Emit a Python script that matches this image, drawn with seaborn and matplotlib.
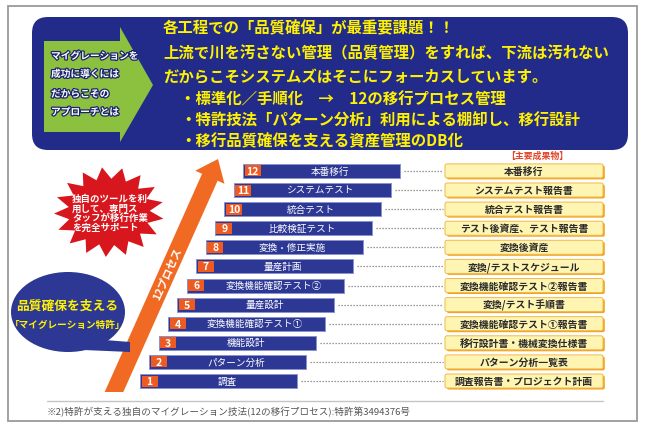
import numpy as np
import matplotlib
matplotlib.use("Agg")
import matplotlib.pyplot as plt
import matplotlib.patches as mpatches
import matplotlib.patheffects as pe
import seaborn as sns

# --- data ---
steps = [1, 2, 3, 4, 5, 6, 7, 8, 9, 10, 11, 12]
step_names = ["調査", "パターン分析", "機能設計", "変換機能確認テスト①", "量産設計",
              "変換機能確認テスト②", "量産計画", "変換・修正実施", "比較検証テスト",
              "統合テスト", "システムテスト", "本番移行"]
deliverables = ["調査報告書・プロジェクト計画", "パターン分析一覧表", "移行設計書・機械変換仕様書",
                "変換機能確認テスト①報告書", "変換/テスト手順書", "変換機能確認テスト②報告書",
                "変換/テストスケジュール", "変換後資産", "テスト後資産、テスト報告書",
                "統合テスト報告書", "システムテスト報告書", "本番移行"]
headline = ["各工程での「品質確保」が最重要課題！！",
            "上流で川を汚さない管理（品質管理）をすれば、下流は汚れない",
            "だからこそシステムズはそこにフォーカスしています。"]
bullets = ["・標準化／手順化　→　12の移行プロセス管理",
           "・特許技法「パターン分析」利用による棚卸し、移行設計",
           "・移行品質確保を支える資産管理のDB化"]
arrow_lines = ["マイグレーションを", "成功に導くには", "だからこその", "アプローチとは"]
burst_lines = ["独自のツールを利", "用して、専門ス", "タッフが移行作業", "を完全サポート"]
bubble_lines = ["品質確保を支える", "「マイグレーション特許」"]
process_label = "12プロセス"
output_title = "【主要成果物】"
footnote = "※2)特許が支える独自のマイグレーション技法(12の移行プロセス):特許第3494376号"

sns.set_theme(style="white")
plt.rcParams['font.family'] = ['Noto Sans CJK JP', 'DejaVu Sans']

fig = plt.figure(figsize=(6.45, 4.31), dpi=100)
ax = fig.add_axes([0, 0, 1, 1])
ax.set_xlim(0, 645)
ax.set_ylim(431, 0)
ax.axis('off')

navy = '#222b8a'
bar_blue = '#2d3895'
orange = '#ee5b22'
yellow = '#fff200'

# outer frame
ax.add_patch(mpatches.Rectangle((8, 7), 629, 415, fill=False, edgecolor='#9a9a9a', lw=1.3))

# top blue panel
ax.add_patch(mpatches.FancyBboxPatch((32, 18), 596, 133,
                                     boxstyle="round,pad=0,rounding_size=16",
                                     facecolor=navy, edgecolor='none'))

# green arrow
green_pts = [(44, 42), (120, 42), (120, 28), (153, 86), (120, 143), (120, 133), (44, 133)]
ax.add_patch(mpatches.Polygon(green_pts, closed=True, facecolor='#8cc13f', edgecolor='none'))
shadow = [pe.withStroke(linewidth=1.8, foreground='#1c2470')]
for txt, yy in zip(arrow_lines, [57, 75, 95, 113]):
    ax.text(51, yy, txt, color='white', fontsize=7.0, fontweight='bold',
            va='center', ha='left', path_effects=shadow)

# yellow headline text
for txt, yy in zip(headline, [28, 53, 77]):
    ax.text(163, yy, txt, color=yellow, fontsize=11.1, fontweight='bold', va='center', ha='left')
for txt, yy in zip(bullets, [100, 121, 141]):
    ax.text(180, yy, txt, color=yellow, fontsize=11.1, fontweight='bold', va='center', ha='left')

# big orange process arrow
B = np.array([114.0, 393.0])
T = np.array([218.0, 160.0])
u = (T - B) / np.linalg.norm(T - B)
n = np.array([-u[1], u[0]])
hw, hh, hl = 8.5, 16.0, 20.0
H = T - u * hl
dx = hw / abs(u[1])
arrow_pts = [B + np.array([-dx, 0]), H - n * hw, H - n * hh, T, H + n * hh, H + n * hw,
             B + np.array([dx, 0])]
ax.add_patch(mpatches.Polygon(arrow_pts, closed=True, facecolor='#f06a24', edgecolor='none'))
ang = np.degrees(np.arctan2(-(T - B)[1], (T - B)[0]))
mid = B + u * np.linalg.norm(T - B) * 0.51
ax.text(mid[0], mid[1], process_label, color='white', fontsize=7.8, fontweight='bold',
        rotation=ang, rotation_mode='anchor', ha='center', va='center')

# red starburst
k = 17
theta = np.linspace(0, 2 * np.pi, 2 * k, endpoint=False) + 0.15
rad = np.where(np.arange(2 * k) % 2 == 0, 1.0, 0.74)
burst = np.column_stack([109 + 55 * rad * np.cos(theta), 213 + 45 * rad * np.sin(theta)])
ax.add_patch(mpatches.Polygon(burst, closed=True, facecolor='#d8161d', edgecolor='none'))
for txt, yy in zip(burst_lines, [199, 208.5, 218, 227.5]):
    ax.text(72, yy, txt, color='white', fontsize=6.8, fontweight='bold', va='center', ha='left')

# blue speech bubble
ax.add_patch(mpatches.Polygon([(92, 340), (130, 343), (130, 353), (84, 351)], closed=True,
                              facecolor=bar_blue, edgecolor='none'))
ax.add_patch(mpatches.Ellipse((68, 313), 114, 80, facecolor=bar_blue, edgecolor='none'))
ax.text(67, 306, bubble_lines[0], color=yellow, fontsize=9.2, fontweight='bold', ha='center', va='center')
ax.text(68, 325, bubble_lines[1], color=yellow, fontsize=6.9, fontweight='bold', ha='center', va='center')

# process bars
idx = np.arange(len(steps))
ys = 382 - idx * 19.1
lefts = 140 + idx * 9.37
bar_w = 157
ax.barh(ys, bar_w, left=lefts, height=14, color=bar_blue, edgecolor='#8a93cf', linewidth=0.7)
ax.barh(ys, 16, left=lefts + 1.5, height=11, color=orange, edgecolor='none')
for s, name, y, l in zip(steps, step_names, ys, lefts):
    ax.text(l + 9.5, y, str(s), color='white', fontsize=7.5, fontweight='bold', ha='center', va='center')
    ax.text(l + 17 + (bar_w - 17) / 2, y, name, color='white', fontsize=6.9, ha='center', va='center')
    ax.plot([l + bar_w + 4, 443], [y, y], color='#7a7a7a', lw=0.9, ls=(0, (1, 1.4)))

# deliverable boxes
ax.text(537, 156, output_title, color='#e2452a', fontsize=6.4, fontweight='bold', ha='center', va='center')
for d, y in zip(deliverables, ys):
    ax.add_patch(mpatches.FancyBboxPatch((446.8, y - 5.5), 158, 14,
                                         boxstyle="round,pad=0,rounding_size=2",
                                         facecolor='#f3a21e', edgecolor='none'))
    ax.add_patch(mpatches.FancyBboxPatch((445, y - 7), 158, 14,
                                         boxstyle="round,pad=0,rounding_size=2",
                                         facecolor='#fff5b2', edgecolor='#f2b84a', lw=0.7))
    ax.text(524, y, d, color='#2a2a2a', fontsize=7.1, fontweight='bold', ha='center', va='center')

# footnote
ax.plot([47, 603], [402, 402], color='#c4c4c4', lw=1.0)
ax.text(47, 412, footnote, color='#555555', fontsize=6.9, ha='left', va='center')

fig.savefig("out.png", dpi=100)
